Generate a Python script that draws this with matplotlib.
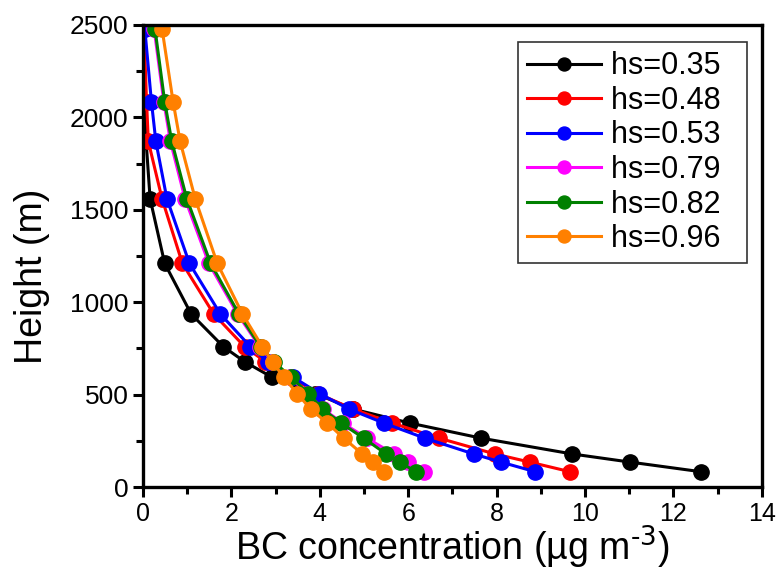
import matplotlib
matplotlib.use("Agg")
import matplotlib.pyplot as plt
from matplotlib.ticker import MultipleLocator

# heights of the model levels (m)
heights = [83, 135, 179, 265, 346, 422, 506, 594, 678, 759, 936, 1210, 1560, 1870, 2085, 2480]

# BC concentration profiles for each hs value
bc_035 = [12.62, 11.02, 9.71, 7.64, 6.04, 4.75, 3.90, 2.92, 2.30, 1.82, 1.09, 0.49, 0.16, 0.07, 0.03, 0.01]
bc_048 = [9.66, 8.75, 7.96, 6.69, 5.64, 4.75, 3.95, 3.35, 2.77, 2.30, 1.60, 0.89, 0.43, 0.12, 0.08, 0.02]
bc_053 = [8.87, 8.10, 7.48, 6.37, 5.45, 4.66, 3.99, 3.40, 2.82, 2.43, 1.75, 1.05, 0.54, 0.29, 0.19, 0.04]
bc_079 = [6.36, 6.00, 5.67, 5.06, 4.52, 4.07, 3.72, 3.32, 2.94, 2.64, 2.14, 1.49, 0.95, 0.62, 0.47, 0.25]
bc_082 = [6.17, 5.81, 5.50, 4.99, 4.48, 4.06, 3.74, 3.35, 2.96, 2.66, 2.17, 1.53, 0.99, 0.65, 0.49, 0.27]
bc_096 = [5.45, 5.21, 4.96, 4.54, 4.17, 3.79, 3.49, 3.18, 2.93, 2.70, 2.25, 1.68, 1.18, 0.84, 0.68, 0.43]

labels = ["hs=0.35", "hs=0.48", "hs=0.53", "hs=0.79", "hs=0.82", "hs=0.96"]
colors = ["black", "#ff0000", "#0000ff", "#ff00ff", "#008000", "#ff8000"]
profiles = [bc_035, bc_048, bc_053, bc_079, bc_082, bc_096]

plt.rcParams["font.family"] = ["Liberation Sans", "DejaVu Sans"]
plt.rcParams["mathtext.default"] = "regular"

fig = plt.figure(figsize=(7.79, 5.73), dpi=100)
ax = fig.add_axes([0.1836, 0.150, 0.7944, 0.8064])

for prof, lab, col in zip(profiles, labels, colors):
    # trailing spaces give the legend its wide right margin
    ax.plot(prof, heights, "-o", color=col, label=lab + "  ", lw=2.2, ms=11)

ax.set_xlim(0, 14)
ax.set_ylim(0, 2500)
ax.xaxis.set_major_locator(MultipleLocator(2))
ax.xaxis.set_minor_locator(MultipleLocator(1))
ax.yaxis.set_major_locator(MultipleLocator(500))
ax.yaxis.set_minor_locator(MultipleLocator(250))

for sp in ax.spines.values():
    sp.set_linewidth(2.4)
ax.tick_params(which="major", direction="out", length=7, width=2.2)
ax.tick_params(which="minor", direction="out", length=5, width=2.2)
ax.tick_params(axis="y", labelsize=19)
ax.tick_params(axis="x", labelsize=18)

ax.set_xlabel(r"BC concentration (µg m$^{\text{-3}}$)", fontsize=27, labelpad=-1)
ax.set_ylabel("Height (m)", fontsize=27)
ax.yaxis.set_label_coords(-0.150, 0.455)

leg = ax.legend(loc="upper right", bbox_to_anchor=(0.976, 0.963), borderaxespad=0,
                fontsize=22, frameon=True, fancybox=False, edgecolor="black",
                handlelength=2.4, handletextpad=0.35, labelspacing=0.15,
                borderpad=0.3, markerscale=0.85)
leg.get_frame().set_linewidth(1.2)

fig.savefig("out.png", dpi=100)
